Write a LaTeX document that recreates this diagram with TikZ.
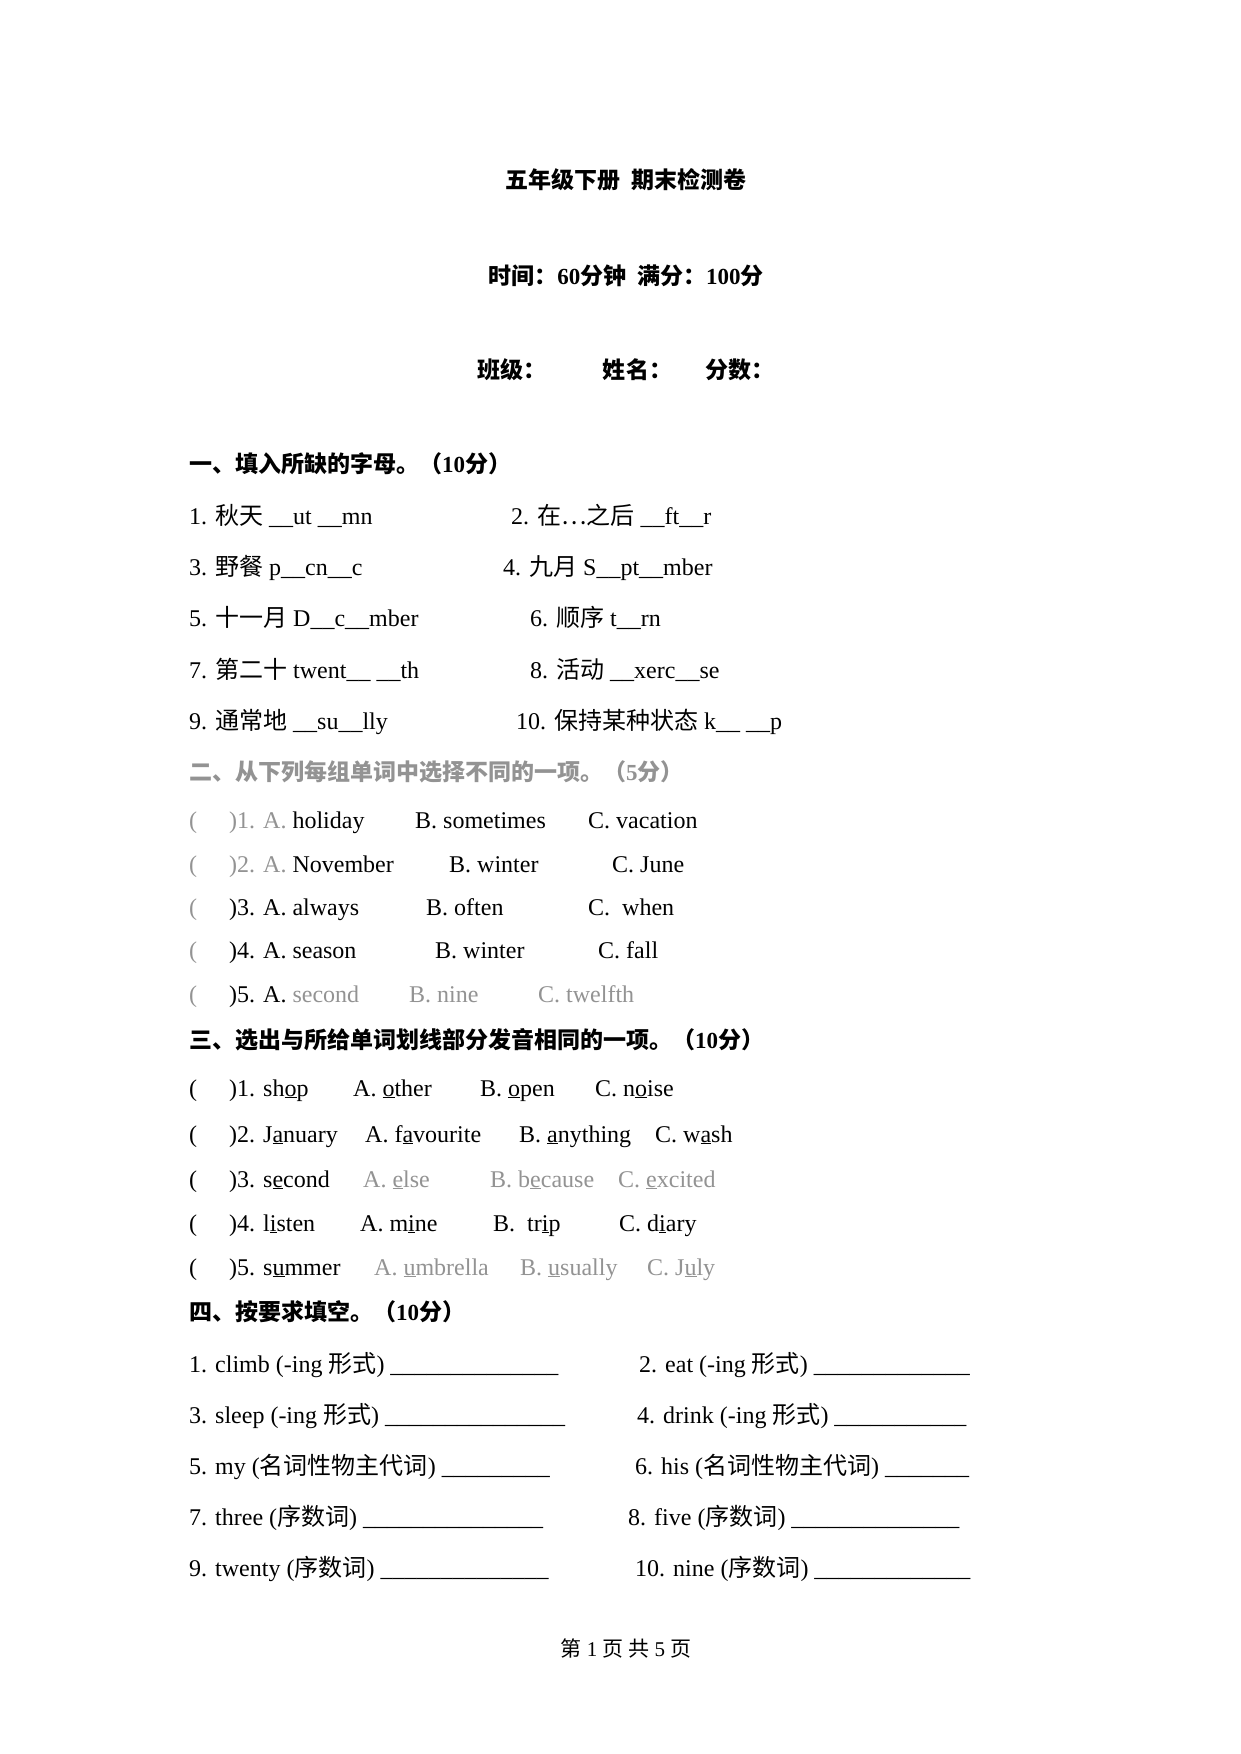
\documentclass[tikz,border=0pt]{standalone}
\usepackage{fontspec}
\setmainfont{Liberation Serif}
\newfontfamily\cjk{Noto Sans CJK SC}
\newcommand{\zh}[1]{{\cjk #1}}
\newcommand{\ul}[1]{\underline{#1}}
\begin{document}
\begin{tikzpicture}[x=1pt,y=-1pt,
  txt/.style={anchor=base west,inner sep=0pt,font=\fontsize{24}{28}\selectfont},
  head/.style={txt,font=\fontsize{23}{28}\selectfont\bfseries},
  mid/.style={anchor=base,inner sep=0pt,font=\fontsize{23}{28}\selectfont\bfseries},
  dim/.style={text=gray!85}]
\useasboundingbox[fill=white] (0,0) rectangle (1240,1754);

% title block
\node[mid] (title) at (626,188) {\zh{五年级下册\ \ 期末检测卷}};
\node[mid] (time) at (626,284) {\zh{时间：}60\zh{分钟\ \ 满分：}100\zh{分}};
\node[mid] (class) at (626,378) {\zh{班级：\qquad\ \ 姓名：\quad\ \ 分数：}};

% part one
\node[head] (h1) at (189,472) {\zh{一、填入所缺的字母。（}10\zh{分）}};
\node[txt] (a1) at (189,524) {1. \zh{秋天} \_\_ut \_\_mn};
\node[txt] (a2) at (511,524) {2. \zh{在…之后} \_\_ft\_\_r};
\node[txt] (a3) at (189,575) {3. \zh{野餐} p\_\_cn\_\_c};
\node[txt] (a4) at (503,575) {4. \zh{九月} S\_\_pt\_\_mber};
\node[txt] (a5) at (189,626) {5. \zh{十一月} D\_\_c\_\_mber};
\node[txt] (a6) at (530,626) {6. \zh{顺序} t\_\_rn};
\node[txt] (a7) at (189,678) {7. \zh{第二十} twent\_\_ \_\_th};
\node[txt] (a8) at (530,678) {8. \zh{活动} \_\_xerc\_\_se};
\node[txt] (a9) at (189,729) {9. \zh{通常地} \_\_su\_\_lly};
\node[txt] (a10) at (516,729) {10. \zh{保持某种状态} k\_\_ \_\_p};

% part two
\node[head,dim] (h2) at (189,780) {\zh{二、从下列每组单词中选择不同的一项。（}5\zh{分）}};
\foreach \y/\i in {828/1,872/2,915/3,958/4,1002/5}
  \node[txt,dim] (p2-\i) at (189,\y) {(};
\node[txt] (b1) at (229,828) {\textcolor{gray!85}{)1. A.} holiday};
\node[txt] (b1b) at (415,828) {B. sometimes};
\node[txt] (b1c) at (588,828) {C. vacation};
\node[txt] (b2) at (229,872) {\textcolor{gray!85}{)2. A.} November};
\node[txt] (b2b) at (449,872) {B. winter};
\node[txt] (b2c) at (612,872) {C. June};
\node[txt] (b3) at (229,915) {)3. A. always};
\node[txt] (b3b) at (426,915) {B. often};
\node[txt] (b3c) at (588,915) {C.\ \ when};
\node[txt] (b4) at (229,958) {)4. A. season};
\node[txt] (b4b) at (435,958) {B. winter};
\node[txt] (b4c) at (598,958) {C. fall};
\node[txt] (b5) at (229,1002) {)5. A. \textcolor{gray!85}{second}};
\node[txt,dim] (b5b) at (409,1002) {B. nine};
\node[txt,dim] (b5c) at (538,1002) {C. twelfth};

% part three
\node[head] (h3) at (189,1048) {\zh{三、选出与所给单词划线部分发音相同的一项。（}10\zh{分）}};
\foreach \y/\i in {1096/1,1142/2,1187/3,1231/4,1275/5}
  \node[txt] (p3-\i) at (189,\y) {(};
\node[txt] (c1) at (229,1096) {)1. sh\ul{o}p};
\node[txt] (c1a) at (353,1096) {A. \ul{o}ther};
\node[txt] (c1b) at (480,1096) {B. \ul{o}pen};
\node[txt] (c1c) at (595,1096) {C. n\ul{o}ise};
\node[txt] (c2) at (229,1142) {)2. J\ul{a}nuary};
\node[txt] (c2a) at (365,1142) {A. f\ul{a}vourite};
\node[txt] (c2b) at (519,1142) {B. \ul{a}nything};
\node[txt] (c2c) at (655,1142) {C. w\ul{a}sh};
\node[txt] (c3) at (229,1187) {)3. s\ul{e}cond};
\node[txt,dim] (c3a) at (363,1187) {A. \ul{e}lse};
\node[txt,dim] (c3b) at (490,1187) {B. b\ul{e}cause};
\node[txt,dim] (c3c) at (618,1187) {C. \ul{e}xcited};
\node[txt] (c4) at (229,1231) {)4. l\ul{i}sten};
\node[txt] (c4a) at (360,1231) {A. m\ul{i}ne};
\node[txt] (c4b) at (493,1231) {B.\ \ tr\ul{i}p};
\node[txt] (c4c) at (619,1231) {C. d\ul{i}ary};
\node[txt] (c5) at (229,1275) {)5. s\ul{u}mmer};
\node[txt,dim] (c5a) at (374,1275) {A. \ul{u}mbrella};
\node[txt,dim] (c5b) at (520,1275) {B. \ul{u}sually};
\node[txt,dim] (c5c) at (647,1275) {C. J\ul{u}ly};

% part four
\node[head] (h4) at (189,1320) {\zh{四、按要求填空。（}10\zh{分）}};
\node[txt] (d1) at (189,1372) {1. climb (-ing \zh{形式}) \_\_\_\_\_\_\_\_\_\_\_\_\_\_};
\node[txt] (d2) at (639,1372) {2. eat (-ing \zh{形式}) \_\_\_\_\_\_\_\_\_\_\_\_\_};
\node[txt] (d3) at (189,1423) {3. sleep (-ing \zh{形式}) \_\_\_\_\_\_\_\_\_\_\_\_\_\_\_};
\node[txt] (d4) at (637,1423) {4. drink (-ing \zh{形式}) \_\_\_\_\_\_\_\_\_\_\_};
\node[txt] (d5) at (189,1474) {5. my (\zh{名词性物主代词}) \_\_\_\_\_\_\_\_\_};
\node[txt] (d6) at (635,1474) {6. his (\zh{名词性物主代词}) \_\_\_\_\_\_\_};
\node[txt] (d7) at (189,1525) {7. three (\zh{序数词}) \_\_\_\_\_\_\_\_\_\_\_\_\_\_\_};
\node[txt] (d8) at (628,1525) {8. five (\zh{序数词}) \_\_\_\_\_\_\_\_\_\_\_\_\_\_};
\node[txt] (d9) at (189,1576) {9. twenty (\zh{序数词}) \_\_\_\_\_\_\_\_\_\_\_\_\_\_};
\node[txt] (d10) at (635,1576) {10. nine (\zh{序数词}) \_\_\_\_\_\_\_\_\_\_\_\_\_};

% footer
\node[anchor=base,inner sep=0pt,font=\fontsize{21}{24}\selectfont] (foot) at (626,1656) {\zh{第} 1 \zh{页 共} 5 \zh{页}};
\end{tikzpicture}
\end{document}
